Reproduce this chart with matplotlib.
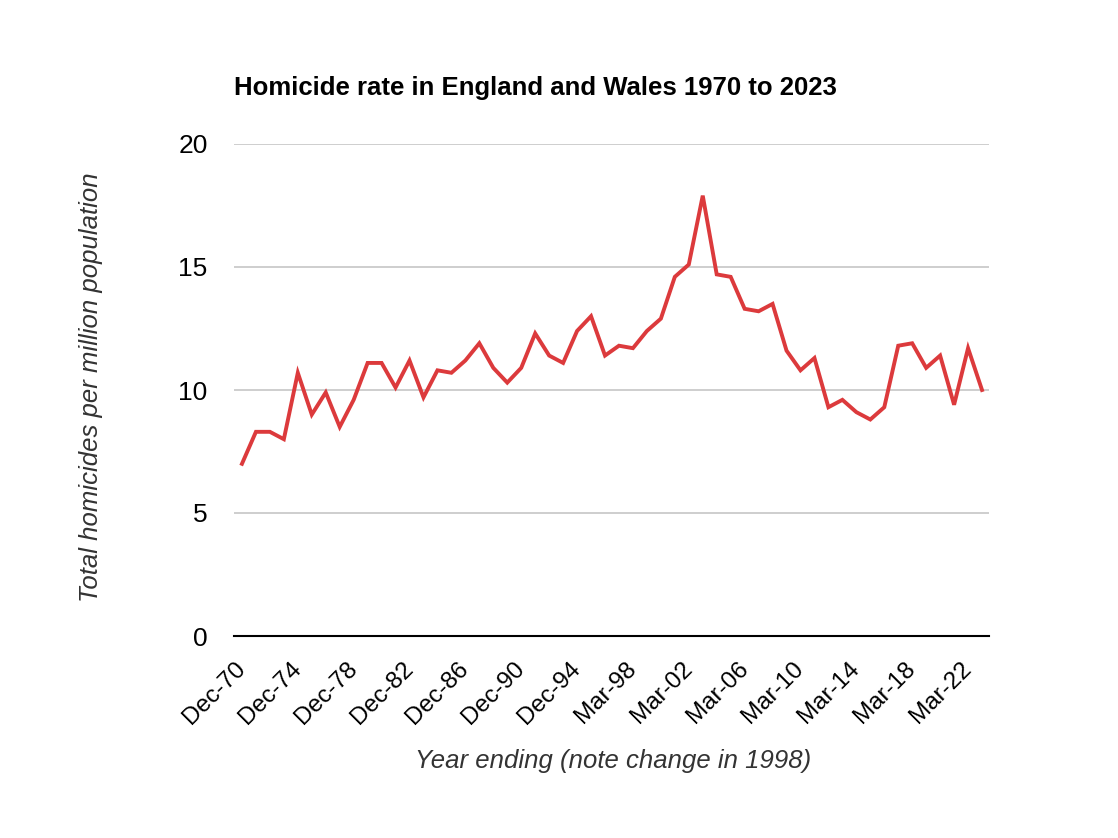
import matplotlib
matplotlib.use("Agg")
import matplotlib.pyplot as plt

plt.rcParams['font.family'] = ['Liberation Sans', 'DejaVu Sans']

periods = (["Dec-%02d" % (y % 100) for y in range(1970, 1998)] +
           ["Mar-%02d" % (y % 100) for y in range(1998, 2024)])
rates = [7.0, 8.3, 8.3, 8.0, 10.7, 9.0, 9.9, 8.5, 9.6, 11.1,
         11.1, 10.1, 11.2, 9.7, 10.8, 10.7, 11.2, 11.9, 10.9, 10.3,
         10.9, 12.3, 11.4, 11.1, 12.4, 13.0, 11.4, 11.8, 11.7, 12.4,
         12.9, 14.6, 15.1, 17.9, 14.7, 14.6, 13.3, 13.2, 13.5, 11.6,
         10.8, 11.3, 9.3, 9.6, 9.1, 8.8, 9.3, 11.8, 11.9, 10.9,
         11.4, 9.4, 11.7, 10.0]
y_ticks = [0, 5, 10, 15, 20]

fig = plt.figure(figsize=(11.18, 8.38), dpi=100)
ax = fig.add_axes([234/1118, 1-636/838, (989-234)/1118, (636-144)/838])

x = list(range(len(periods)))
ax.plot(x, rates, color='#dc3a3c', lw=2.8, solid_joinstyle='miter', zorder=3)

ax.set_xlim(-0.57, len(periods) - 0.5)
ax.set_ylim(0, 20)
ax.set_yticks(y_ticks)
ax.set_yticklabels([str(t) for t in y_ticks], fontsize=19)
ax.yaxis.grid(True, color='#c6c6c6', lw=1.2)
ax.set_axisbelow(True)
ax.tick_params(axis='y', length=0, pad=19)
ax.tick_params(axis='x', length=0, pad=21)

tick_idx = list(range(0, len(periods), 4))
ax.set_xticks(tick_idx)
ax.set_xticklabels([periods[i] for i in tick_idx], rotation=45, ha='right',
                   va='center', rotation_mode='anchor', fontsize=17.5)

for s in ['top', 'right', 'left']:
    ax.spines[s].set_visible(False)
ax.spines['bottom'].set_color('black')
ax.spines['bottom'].set_linewidth(1.5)
ax.spines['bottom'].set_zorder(4)

ax.set_ylabel('Total homicides per million population', fontsize=18.5,
              style='italic', color='#333333')
ax.yaxis.set_label_coords((103-234)/755, (636-387.5)/492)
ax.set_xlabel('Year ending (note change in 1998)', fontsize=18.5,
              style='italic', color='#333333')
ax.xaxis.set_label_coords((613.5-234)/755, (636-749)/492)

fig.text(234/1118, 1-88/838, 'Homicide rate in England and Wales 1970 to 2023',
         fontsize=18.5, fontweight='bold', ha='left', va='center')

fig.savefig('out.png', dpi=100, facecolor='white')
